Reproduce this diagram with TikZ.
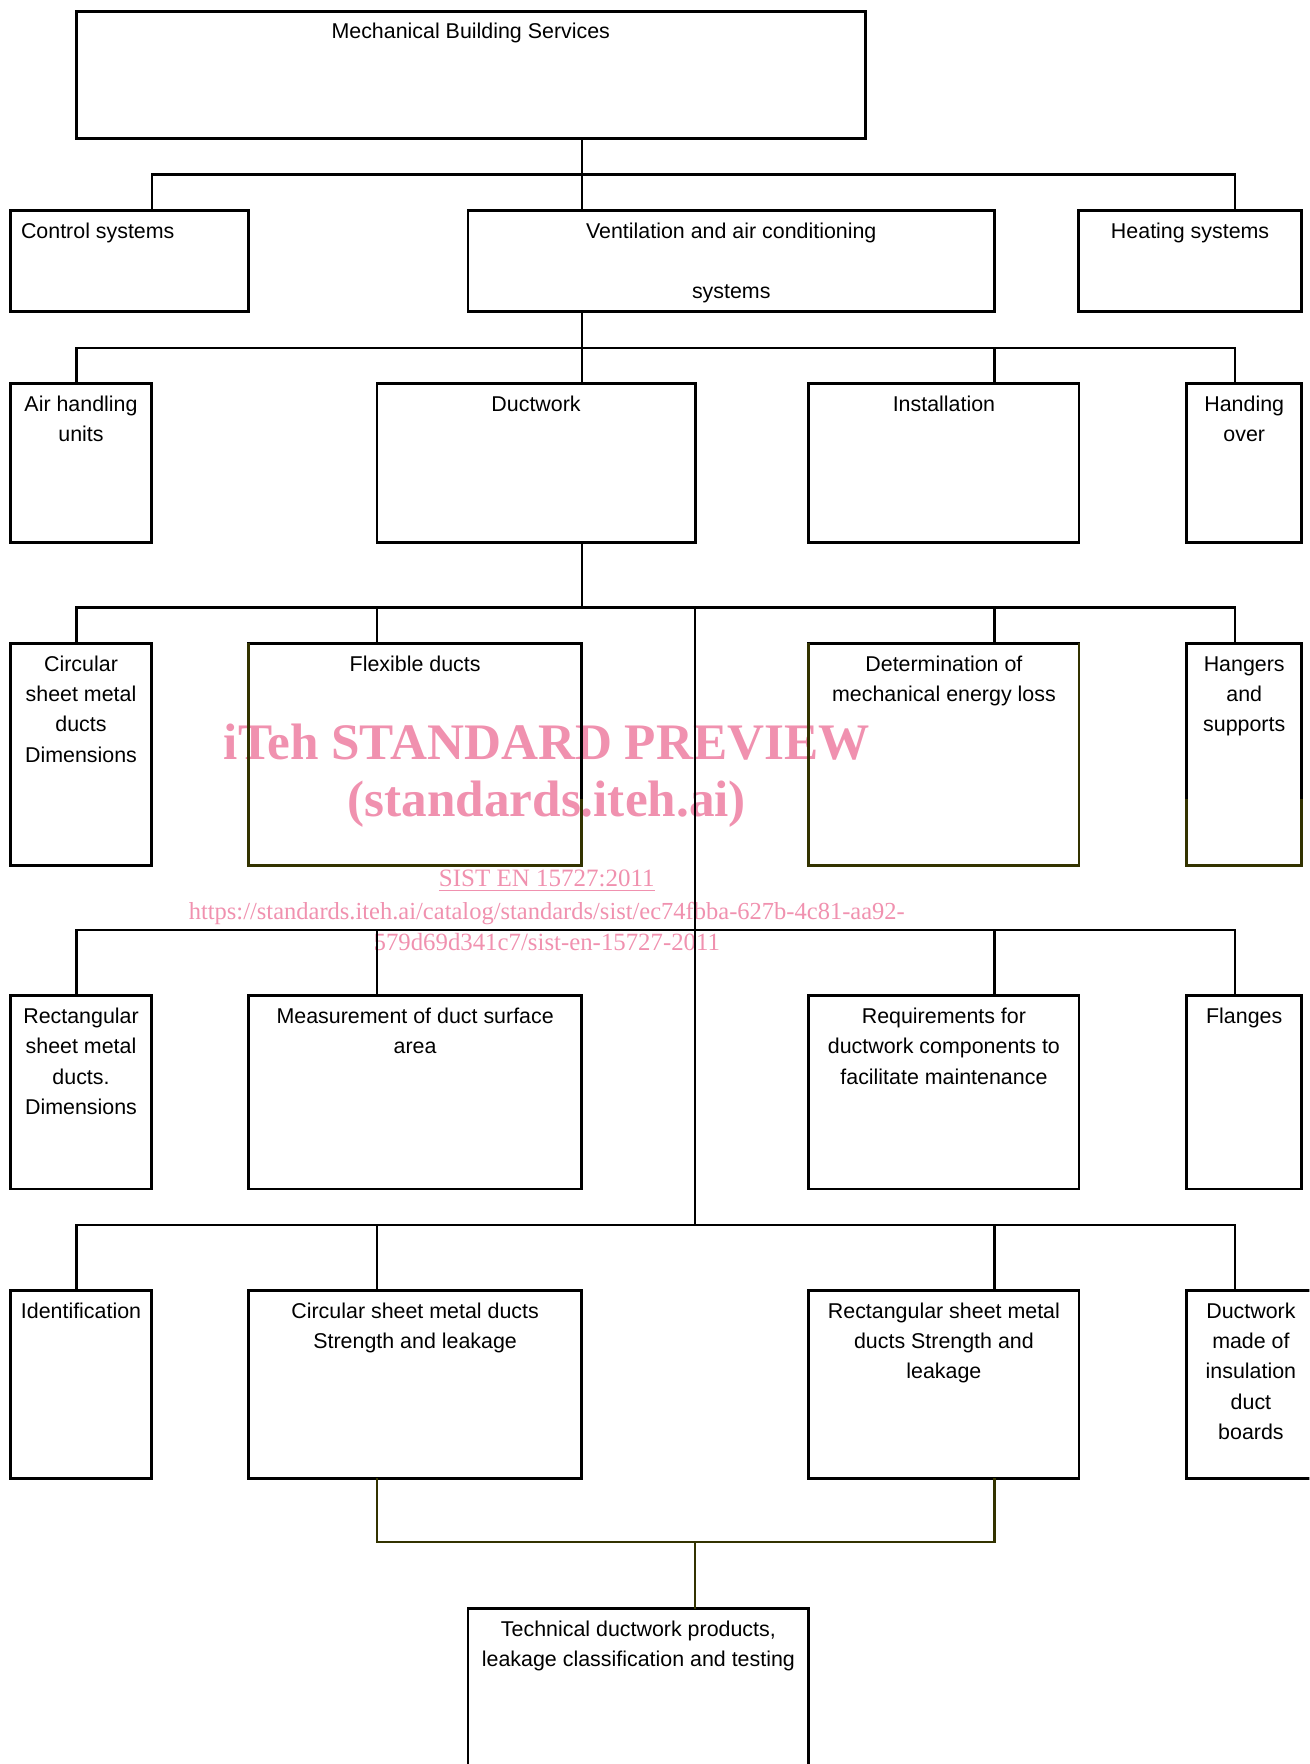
\documentclass[tikz,border=0pt]{standalone}
\usepackage{fontspec}
\setmainfont{Liberation Sans}
\newfontfamily\wmfont{Liberation Serif}
\usetikzlibrary{positioning}
\definecolor{darkolive}{RGB}{51,51,0}
\definecolor{wmpink}{RGB}{240,145,175}

\begin{document}
\begin{tikzpicture}[x=1pt, y=-1pt, thick]
    % Define styles
    \tikzstyle{box} = [rectangle, draw, line width=1.4pt, anchor=north west, inner sep=0pt, outer sep=0pt]
    \tikzstyle{txt} = [inner sep=0pt, align=center, font=\fontsize{10.7}{15.2}\selectfont]
    \tikzstyle{line} = [draw, line width=1.1pt]
    \tikzstyle{oline} = [draw, darkolive, line width=1.4pt]
    \tikzstyle{wm} = [wmpink, inner sep=0pt, anchor=base]

    \clip (0,0) rectangle (654.5,881.7);

    % Columns and bars
    \coordinate (c0) at (75.9,0);
    \coordinate (c1) at (38.2,0);
    \coordinate (c2) at (188.4,0);
    \coordinate (c3) at (290.7,0);
    \coordinate (c4) at (347.5,0);
    \coordinate (c5) at (497.1,0);
    \coordinate (c6) at (617.4,0);
    \coordinate (r1) at (0,87.2);
    \coordinate (r2) at (0,173.8);
    \coordinate (r3) at (0,303.6);
    \coordinate (r4) at (0,465.0);
    \coordinate (r5) at (0,612.3);
    \coordinate (r6) at (0,770.9);
    \coordinate (cut) at (0,399.5);

    % Watermark
    \node [wm, font=\wmfont\bfseries\fontsize{25.6}{30}\selectfont] (wm1) at (273.3,379.6) {iTeh STANDARD PREVIEW};
    \node [wm, font=\wmfont\bfseries\fontsize{25.6}{30}\selectfont] (wm2) at (273.3,408.2) {(standards.iteh.ai)};
    \node [wm, font=\wmfont\fontsize{12.5}{15}\selectfont] (wm3) at (273.3,443.3) {\underline{SIST EN 15727:2011}};
    \node [wm, font=\wmfont\fontsize{12.25}{15}\selectfont] (wm4) at (273.3,459.4) {https://standards.iteh.ai/catalog/standards/sist/ec74fbba-627b-4c81-aa92-};
    \node [wm, font=\wmfont\fontsize{12.4}{15}\selectfont] (wm5) at (273.3,475.1) {579d69d341c7/sist-en-15727-2011};

    % Place nodes - top levels
    \node [box, minimum width=394.2pt, minimum height=63.5pt] (mbs) at (38.2,5.6) {};
    \node [box, minimum width=119.2pt, minimum height=50.6pt] (ctrl) at (5.1,105.2) {};
    \node [box, minimum width=263.2pt, minimum height=50.6pt] (vent) at (233.9,105.2) {};
    \node [box, minimum width=111.3pt, minimum height=50.6pt] (heat) at (539.2,105.2) {};

    % Place nodes - ventilation
    \node [box, minimum width=70.8pt, minimum height=79.3pt] (ahu) at (5.1,191.7) {};
    \node [box, minimum width=159.1pt, minimum height=79.3pt] (duct) at (188.4,191.7) {};
    \node [box, minimum width=135.0pt, minimum height=79.3pt] (inst) at (404.3,191.7) {};
    \node [box, minimum width=57.4pt, minimum height=79.3pt] (hand) at (593.2,191.7) {};

    % Place nodes - ductwork
    \node [box, minimum width=70.8pt, minimum height=110.8pt] (circ) at (5.1,321.6) {};
    \node [box, minimum width=166.4pt, minimum height=110.8pt] (flex) at (124.3,321.6) {};
    \node [box, minimum width=135.0pt, minimum height=110.8pt] (det) at (404.3,321.6) {};
    \node [box, minimum width=57.4pt, minimum height=110.8pt] (hang) at (593.2,321.6) {};

    \node [box, minimum width=70.8pt, minimum height=96.7pt] (rect) at (5.1,497.6) {};
    \node [box, minimum width=166.4pt, minimum height=96.7pt] (meas) at (124.3,497.6) {};
    \node [box, minimum width=135.0pt, minimum height=96.7pt] (req) at (404.3,497.6) {};
    \node [box, minimum width=57.4pt, minimum height=96.7pt] (flan) at (593.2,497.6) {};

    \node [box, minimum width=70.8pt, minimum height=93.9pt] (ident) at (5.1,645.0) {};
    \node [box, minimum width=166.4pt, minimum height=93.9pt] (cstr) at (124.3,645.0) {};
    \node [box, minimum width=135.0pt, minimum height=93.9pt] (rstr) at (404.3,645.0) {};
    \node [box, minimum width=64.1pt, minimum height=93.9pt] (insul) at (593.2,645.0) {};

    \node [box, minimum width=170.4pt, minimum height=100pt] (tech) at (233.9,804.1) {};

    % Box texts
    \node [txt, below=2.8pt of mbs.north] (mbs-t) {\strut Mechanical Building Services};
    \node [txt, below right=2.8pt and 5pt of ctrl.north west] (ctrl-t) {\strut Control systems};
    \node [txt, below=2.8pt of vent.north] (vent-t) {\strut Ventilation and air conditioning\\[15.2pt]systems};
    \node [txt, below=2.8pt of heat.north] (heat-t) {\strut Heating systems};
    \node [txt, below=2.8pt of ahu.north] (ahu-t) {\strut Air handling\\units};
    \node [txt, below=2.8pt of duct.north] (duct-t) {\strut Ductwork};
    \node [txt, below=2.8pt of inst.north] (inst-t) {\strut Installation};
    \node [txt, below=2.8pt of hand.north] (hand-t) {\strut Handing\\over};
    \node [txt, below=2.8pt of circ.north] (circ-t) {\strut Circular\\sheet metal\\ducts\\Dimensions};
    \node [txt, below=2.8pt of flex.north] (flex-t) {\strut Flexible ducts};
    \node [txt, below=2.8pt of det.north] (det-t) {\strut Determination of\\mechanical energy loss};
    \node [txt, below=2.8pt of hang.north] (hang-t) {\strut Hangers\\and\\supports};
    \node [txt, below=2.8pt of rect.north] (rect-t) {\strut Rectangular\\sheet metal\\ducts.\\Dimensions};
    \node [txt, below=2.8pt of meas.north] (meas-t) {\strut Measurement of duct surface\\area};
    \node [txt, below=2.8pt of req.north] (req-t) {\strut Requirements for\\ductwork components to\\facilitate maintenance};
    \node [txt, below=2.8pt of flan.north] (flan-t) {\strut Flanges};
    \node [txt, below=2.8pt of ident.north] (ident-t) {\strut Identification};
    \node [txt, below=2.8pt of cstr.north] (cstr-t) {\strut Circular sheet metal ducts\\Strength and leakage};
    \node [txt, below=2.8pt of rstr.north] (rstr-t) {\strut Rectangular sheet metal\\ducts Strength and\\leakage};
    \node [txt, below=2.8pt of insul.north] (insul-t) {\strut Ductwork\\made of\\insulation\\duct\\boards};
    \node [txt, below=2.8pt of tech.north] (tech-t) {\strut Technical ductwork products,\\leakage classification and testing};

    % Olive box edges
    \path [oline] (flex.north west) -- (flex.south west) -- (flex.south east) -- (flex.east |- cut);
    \path [oline] (det.north west) -- (det.south west) -- (det.south east) -- (det.north east);
    \path [oline] (hang.west |- cut) -- (hang.south west) -- (hang.south east) -- (hang.east |- cut);

    % Draw edges - level 1
    \path [line] (c3 |- mbs.south) -- (c3 |- vent.north);
    \path [line] (c0 |- ctrl.north) -- (c0 |- r1) -- (c6 |- r1) -- (c6 |- heat.north);

    % Draw edges - level 2
    \path [line] (c3 |- vent.south) -- (c3 |- duct.north);
    \path [line] (c1 |- ahu.north) -- (c1 |- r2) -- (c6 |- r2) -- (c6 |- hand.north);
    \path [line] (c5 |- r2) -- (c5 |- inst.north);

    % Draw edges - ductwork parts
    \path [line] (c3 |- duct.south) -- (c3 |- r3);
    \path [line] (c4 |- r3) -- (c4 |- r5);
    \path [line] (c1 |- circ.north) -- (c1 |- r3) -- (c6 |- r3) -- (c6 |- hang.north);
    \path [line] (c2 |- r3) -- (c2 |- flex.north);
    \path [line] (c5 |- r3) -- (c5 |- det.north);

    \path [line] (c1 |- rect.north) -- (c1 |- r4) -- (c6 |- r4) -- (c6 |- flan.north);
    \path [line] (c2 |- r4) -- (c2 |- meas.north);
    \path [line] (c5 |- r4) -- (c5 |- req.north);

    \path [line] (c1 |- ident.north) -- (c1 |- r5) -- (c6 |- r5) -- (c6 |- insul.north);
    \path [line] (c2 |- r5) -- (c2 |- cstr.north);
    \path [line] (c5 |- r5) -- (c5 |- rstr.north);

    % Draw edges - leakage
    \path [line, darkolive, line width=1.1pt] (c2 |- cstr.south) -- (c2 |- r6) -- (c5 |- r6) -- (c5 |- rstr.south);
    \path [line, darkolive, line width=1.1pt] (c4 |- r6) -- (c4 |- tech.north);

\end{tikzpicture}
\end{document}
